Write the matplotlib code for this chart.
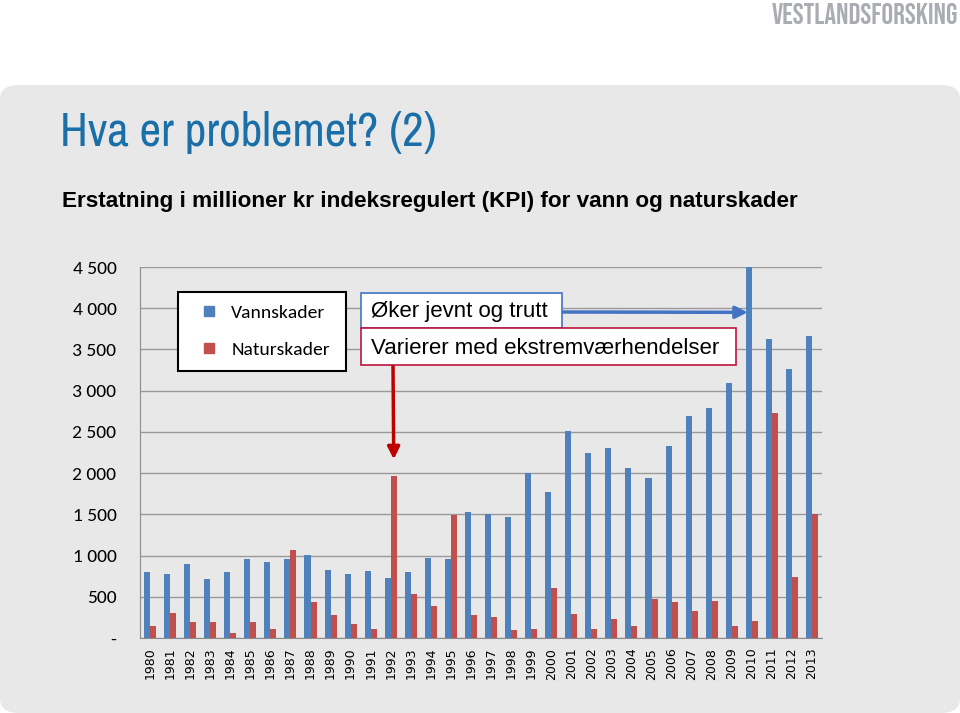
import matplotlib.pyplot as plt
from matplotlib.patches import FancyBboxPatch, Rectangle
from matplotlib.lines import Line2D
import numpy as np

years = list(range(1980, 2014))
vannskader = [800, 780, 897, 711, 796, 954, 918, 958, 1002, 825, 772, 817, 728, 804,
              970, 954, 1524, 1508, 1467, 1997, 1774, 2510, 2243, 2300, 2061, 1944,
              2324, 2696, 2793, 3092, 4500, 3630, 3258, 3662]
naturskader = [141, 307, 190, 194, 61, 190, 105, 1071, 437, 279, 170, 105, 1968, 534,
               388, 1492, 279, 251, 93, 113, 602, 287, 105, 230, 141, 469, 432, 327,
               449, 150, 206, 2728, 744, 1500]
yticks = [0, 500, 1000, 1500, 2000, 2500, 3000, 3500, 4000, 4500]
ytick_labels = ["-", "500", "1 000", "1 500", "2 000", "2 500", "3 000", "3 500", "4 000", "4 500"]

blue = "#4f81bd"
red = "#c0504d"
narrow = ["Liberation Sans Narrow", "Archivo Narrow", "DejaVu Sans"]
calibri = ["Carlito", "DejaVu Sans"]
arial = ["Liberation Sans", "DejaVu Sans"]

W, H = 960, 713


def fx(px):
    return px / W


def fy(py):
    return 1 - py / H


fig = plt.figure(figsize=(9.6, 7.13), dpi=100)
fig.patch.set_facecolor("white")

# grey slide background
bg = FancyBboxPatch((0.0, 0.0), 1.0, fy(85), boxstyle="round,pad=0,rounding_size=0.02",
                    transform=fig.transFigure, facecolor="#e8e8e8", edgecolor="none", zorder=-5)
fig.patches.append(bg)

fig.text(fx(958), fy(14), "VESTLANDSFORSKING", family=["Bebas Neue", "Archivo Narrow", "DejaVu Sans"],
         fontsize=21, color="#a9acb1", va="center", ha="right")
fig.text(fx(60), fy(132), "Hva er problemet? (2)", family=narrow,
         fontsize=34, color="#1a6fa8", va="center", ha="left")
fig.text(fx(62), fy(201), "Erstatning i millioner kr indeksregulert (KPI) for vann og naturskader",
         family=arial, weight="bold", fontsize=16.2, color="black", va="center", ha="left")

ax = fig.add_axes([fx(140), fy(638), 682 / W, 371 / H])
ax.set_facecolor("none")
x = np.arange(len(years))
w = 0.3
ax.bar(x - w / 2, vannskader, width=w, color=blue, zorder=3)
ax.bar(x + w / 2, naturskader, width=w, color=red, zorder=3)
ax.set_xlim(-0.5, len(years) - 0.5)
ax.set_ylim(0, 4500)
ax.set_yticks(yticks)
ax.set_yticklabels(ytick_labels, fontsize=14, family=calibri)
ax.set_xticks(x)
ax.set_xticklabels([str(y) for y in years], rotation=90, fontsize=9)
ax.tick_params(length=0)
ax.tick_params(axis="y", pad=17)
ax.tick_params(axis="x", pad=7)
ax.grid(axis="y", color="#9a9a9a", linewidth=1, zorder=1)
for s in ["top", "right"]:
    ax.spines[s].set_visible(False)
ax.spines["left"].set_color("#8c8c8c")
ax.spines["bottom"].set_color("#8c8c8c")

handles = [Line2D([], [], linestyle="none", marker="s", markersize=7.5, color=blue, label="Vannskader"),
           Line2D([], [], linestyle="none", marker="s", markersize=7.5, color=red, label="Naturskader")]
leg = fig.legend(handles=handles, loc="upper left", mode="expand",
                 bbox_to_anchor=(fx(178), fy(369), 168 / W, 77 / H),
                 frameon=True, fancybox=False, edgecolor="black", facecolor="white",
                 prop={"family": calibri, "size": 14}, handlelength=1.9,
                 labelspacing=1.06, borderpad=0.64, handletextpad=0.2, borderaxespad=0)
leg.get_frame().set_linewidth(1.5)
leg.get_frame().set_alpha(1)
leg.set_zorder(10)

# annotation boxes and arrows
fig.patches.append(Rectangle((fx(361), fy(328)), fx(562) - fx(361), fy(293) - fy(328),
                             transform=fig.transFigure, facecolor="white", edgecolor="#4472c4",
                             linewidth=1.2, zorder=10))
fig.patches.append(Rectangle((fx(361), fy(365)), fx(736) - fx(361), fy(328) - fy(365),
                             transform=fig.transFigure, facecolor="white", edgecolor="#c0143c",
                             linewidth=1.2, zorder=11))
fig.text(fx(371), fy(312), "Øker jevnt og trutt", fontsize=16, family=arial,
         va="center", ha="left", zorder=12)
fig.text(fx(371), fy(348), "Varierer med ekstremværhendelser", fontsize=16, family=arial,
         va="center", ha="left", zorder=12)

ax.annotate("", xy=(30 - w / 2 - 0.05, 3950), xycoords="data",
            xytext=(fx(562), fy(312)), textcoords="figure fraction",
            arrowprops=dict(arrowstyle="-|>", color="#4472c4", lw=2.5, mutation_scale=18,
                            shrinkA=0, shrinkB=0), zorder=9)
ax.annotate("", xy=(12 + w / 2, 2168), xycoords="data",
            xytext=(fx(393), fy(365)), textcoords="figure fraction",
            arrowprops=dict(arrowstyle="-|>", color="#c00000", lw=2.5, mutation_scale=18,
                            shrinkA=0, shrinkB=0), zorder=9)

fig.savefig("out.png", dpi=100)
